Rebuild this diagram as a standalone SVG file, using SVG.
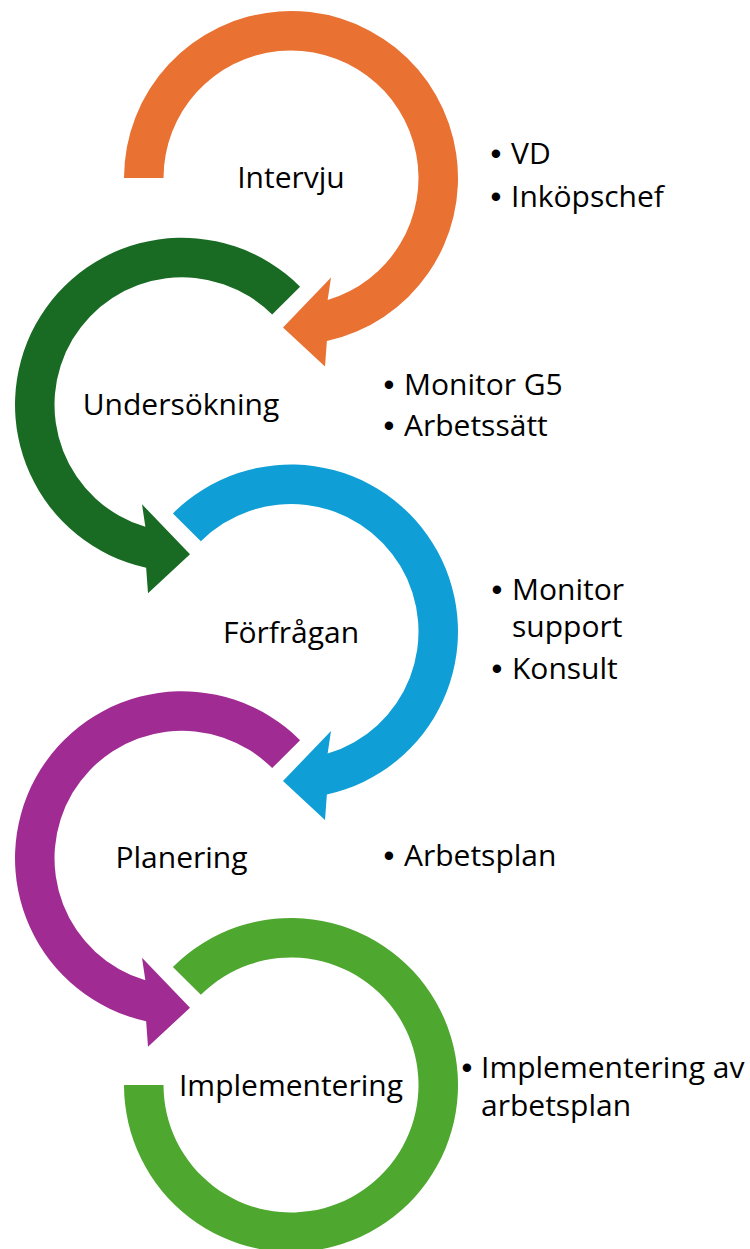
<svg xmlns="http://www.w3.org/2000/svg" xmlns:xlink="http://www.w3.org/1999/xlink" width="750" height="1249" viewBox="0 0 750 1249">
  <style>
    .label { font-family: "Open Sans", "Noto Sans", "Liberation Sans", sans-serif; font-size: 30px; fill: #000; }
    .mid { text-anchor: middle; }
    .bullet { font-family: "Liberation Sans", Arial, sans-serif; font-size: 31px; fill: #000; text-anchor: middle; }
  </style>
  <defs>
    <!-- circular arrow shapes, drawn around a (0,0) centre; outer radius 167, inner 127.5 -->
    <path id="arrow-first" d="M -167 0 A 167 167 0 1 1 35.86 163.11 L 34 188.5 L -8 149.5 L 40 99.5 L 36.64 122.12 A 127.5 127.5 0 1 0 -127.5 0 Z"/>
    <path id="arrow-step" d="M -118.09 -118.09 A 167 167 0 1 1 35.86 163.11 L 34 188.5 L -8 149.5 L 40 99.5 L 36.64 122.12 A 127.5 127.5 0 1 0 -90.16 -90.16 Z"/>
    <path id="ring-last" d="M -118.09 -118.09 A 167 167 0 1 1 -167 0 L -127.5 0 A 127.5 127.5 0 1 0 -90.16 -90.16 Z"/>
  </defs>

  <g id="step-intervju">
    <use xlink:href="#arrow-first" transform="translate(291,178)" fill="#E97132"/>
    <text class="label mid" x="291" y="188">Intervju</text>
    <text class="bullet" x="496" y="164">•</text>
    <text class="label" x="511" y="164">VD</text>
    <text class="bullet" x="496" y="207">•</text>
    <text class="label" x="511" y="207">Inköpschef</text>
  </g>

  <g id="step-undersokning">
    <use xlink:href="#arrow-step" transform="translate(182,404.75) scale(-1,1)" fill="#196B24"/>
    <text class="label mid" x="181" y="415">Undersökning</text>
    <text class="bullet" x="389" y="395">•</text>
    <text class="label" x="404" y="395">Monitor G5</text>
    <text class="bullet" x="389" y="436">•</text>
    <text class="label" x="404" y="436">Arbetssätt</text>
  </g>

  <g id="step-forfragan">
    <use xlink:href="#arrow-step" transform="translate(291,631.5)" fill="#0F9ED5"/>
    <text class="label mid" x="291" y="643">Förfrågan</text>
    <text class="bullet" x="497" y="600">•</text>
    <text class="label" x="512" y="600">Monitor</text>
    <text class="label" x="512" y="637">support</text>
    <text class="bullet" x="497" y="679">•</text>
    <text class="label" x="512" y="679">Konsult</text>
  </g>

  <g id="step-planering">
    <use xlink:href="#arrow-step" transform="translate(182,858.25) scale(-1,1)" fill="#A02B93"/>
    <text class="label mid" x="181.5" y="868">Planering</text>
    <text class="bullet" x="389" y="866">•</text>
    <text class="label" x="404" y="866">Arbetsplan</text>
  </g>

  <g id="step-implementering">
    <use xlink:href="#ring-last" transform="translate(291,1085)" fill="#4EA72E"/>
    <text class="label mid" x="291" y="1096">Implementering</text>
    <text class="bullet" x="467" y="1078">•</text>
    <text class="label" x="481" y="1078">Implementering av</text>
    <text class="label" x="481" y="1116">arbetsplan</text>
  </g>

  <g id="connectors"/>
</svg>
